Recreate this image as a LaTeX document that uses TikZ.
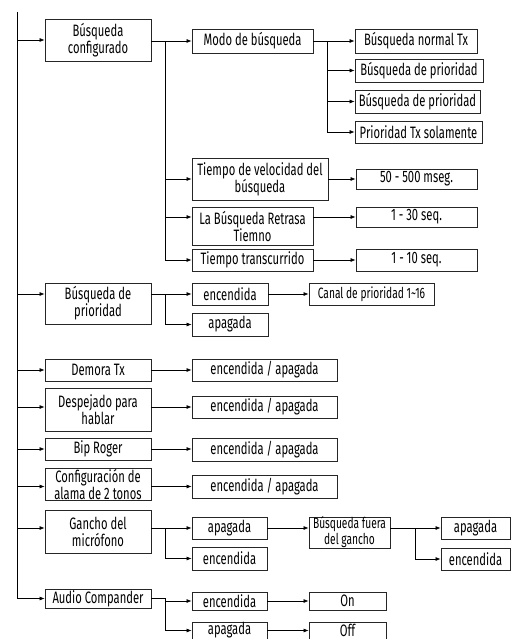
\documentclass[tikz,border=0pt]{standalone}
\usepackage{fontspec}
\setmainfont[FakeStretch=0.68]{Fira Sans}
\usetikzlibrary{arrows.meta}

\tikzset{
  box/.style={draw=black!85, line width=0.8pt, inner sep=0pt, align=center,
    font=\fontsize{16.5}{17}\selectfont},
  small/.style={font=\fontsize{15}{16}\selectfont},
  arr/.style={-{Latex[length=5pt,width=4pt]}, line width=0.7pt},
  ln/.style={line width=0.7pt}
}

\begin{document}
\begin{tikzpicture}[x=1pt,y=-1pt]
\useasboundingbox (0,0) rectangle (511,639);

% Left spine
\coordinate (spine) at (17,12);

% Busqueda configurado
\node[box, minimum width=106, minimum height=42] (bc) at (98,40) {Búsqueda\\configurado};
\node[box, minimum width=121, minimum height=24] (modo) at (252.5,41) {Modo de búsqueda};
\node[box, minimum width=122, minimum height=24] (m1) at (416,41) {Búsqueda normal Tx};
\node[box, minimum width=128, minimum height=23] (m2) at (419,70.5) {Búsqueda de prioridad};
\node[box, minimum width=125, minimum height=23] (m3) at (417.5,101.5) {Búsqueda de prioridad};
\node[box, minimum width=127, minimum height=22] (m4) at (418.5,132) {Prioridad Tx solamente};
\node[box, minimum width=136, minimum height=42] (vel) at (260,179) {Tiempo de velocidad del\\búsqueda};
\node[box, minimum width=121, minimum height=20] (velv) at (416.5,179) {50 - 500 mseg.};
\node[box, minimum width=121, minimum height=38] (ret) at (252.5,226) {La Búsqueda Retrasa\\Tiemno};
\node[box, minimum width=121, minimum height=20] (retv) at (416.5,217) {1 - 30 seq.};
\node[box, minimum width=121, minimum height=22] (tra) at (252.5,260) {Tiempo transcurrido};
\node[box, minimum width=121, minimum height=22] (trav) at (416.5,260) {1 - 10 seq.};

% Busqueda de prioridad
\node[box, minimum width=106, minimum height=41] (bp) at (98,303.5) {Búsqueda de\\prioridad};
\node[box, minimum width=76, minimum height=22] (bpOn) at (230,294) {encendida};
\node[box, minimum width=76, minimum height=23] (bpOff) at (230,324.5) {apagada};
\node[box, small, minimum width=125, minimum height=22] (canal) at (371.5,294) {Canal de prioridad 1\textasciitilde16};

% Simple on / off settings
\node[box, minimum width=106, minimum height=22] (dem) at (98,370) {Demora Tx};
\node[box, minimum width=145, minimum height=22] (demv) at (264.5,370) {encendida / apagada};
\node[box, minimum width=106, minimum height=43] (des) at (98,409.5) {Despejado para\\hablar};
\node[box, minimum width=145, minimum height=22] (desv) at (264.5,407) {encendida / apagada};
\node[box, minimum width=106, minimum height=22] (bip) at (98,449) {Bip Roger};
\node[box, minimum width=145, minimum height=23] (bipv) at (264.5,449.5) {encendida / apagada};
\node[box, minimum width=106, minimum height=32] (cfg) at (98,484) {Configuración de\\alama de 2 tonos};
\node[box, minimum width=145, minimum height=23] (cfgv) at (264.5,486.5) {encendida / apagada};

% Gancho del microfono
\node[box, minimum width=106, minimum height=43] (gan) at (98,531.5) {Gancho del\\micrófono};
\node[box, minimum width=75, minimum height=22] (ganOff) at (229.5,528) {apagada};
\node[box, minimum width=75, minimum height=23] (ganOn) at (229.5,558.5) {encendida};
\node[box, small, minimum width=81, minimum height=31] (fue) at (349.5,532.5) {Búsqueda fuera\\del gancho};
\node[box, minimum width=69, minimum height=22] (fueOff) at (475.5,528) {apagada};
\node[box, minimum width=69, minimum height=22] (fueOn) at (475.5,559) {encendida};

% Audio Compander
\node[box, minimum width=106, minimum height=19] (aud) at (98,598.5) {Audio Compander};
\node[box, minimum width=75, minimum height=18] (audOn) at (229.5,601) {encendida};
\node[box, minimum width=75, minimum height=17] (audOff) at (229.5,630.5) {apagada};
\node[box, minimum width=77, minimum height=18] (on) at (347.5,601) {On};
\node[box, minimum width=77, minimum height=17] (off) at (347.5,630.5) {Off};

% Spine and first level arrows
\draw[arr] (spine) |- (aud.west);
\draw[arr] (spine |- bc) -- (bc.west);
\draw[arr] (spine |- bpOn) -- (bp.west |- bpOn);
\draw[arr] (spine |- dem) -- (dem.west);
\draw[arr] (spine |- desv) -- (des.west |- desv);
\draw[arr] (spine |- bip) -- (bip.west);
\draw[arr] (spine |- cfgv) -- (cfg.west |- cfgv);
\draw[arr] (spine |- ganOff) -- (gan.west |- ganOff);

% Branches of Busqueda configurado
\coordinate (bcJ) at (165,41);
\draw[ln] (bc.east |- bcJ) -- (bcJ) -- (bcJ |- tra);
\draw[arr] (bcJ) -- (modo.west);
\draw[arr] (bcJ |- vel) -- (vel.west);
\draw[arr] (bcJ |- retv) -- (ret.west |- retv);
\draw[arr] (bcJ |- tra) -- (tra.west);

\coordinate (modoJ) at (327,41);
\draw[ln] (modo.east) -- (modoJ) -- (modoJ |- m4);
\draw[arr] (modoJ) -- (m1.west);
\draw[arr] (modoJ |- m2) -- (m2.west);
\draw[arr] (modoJ |- m3) -- (m3.west);
\draw[arr] (modoJ |- m4) -- (m4.west);

\draw[arr] (vel.east) -- (velv.west);
\draw[arr] (ret.east |- retv) -- (retv.west);
\draw[arr] (tra.east) -- (trav.west);

% Branches of Busqueda de prioridad
\coordinate (bpJ) at (165,294);
\draw[ln] (bp.east |- bpJ) -- (bpJ) -- (bpJ |- bpOff);
\draw[arr] (bpJ) -- (bpOn.west);
\draw[arr] (bpJ |- bpOff) -- (bpOff.west);
\draw[arr] (bpOn.east) -- (canal.west);

\draw[arr] (dem.east) -- (demv.west);
\draw[arr] (des.east |- desv) -- (desv.west);
\draw[arr] (bip.east) -- (bip.east -| bipv.west);
\draw[arr] (cfg.east |- cfgv) -- (cfgv.west);

% Branches of Gancho del microfono
\coordinate (ganJ) at (165,528);
\draw[ln] (gan.east |- ganJ) -- (ganJ) -- (ganJ |- ganOn);
\draw[arr] (ganJ) -- (ganOff.west);
\draw[arr] (ganJ |- ganOn) -- (ganOn.west);
\draw[arr] (ganOff.east) -- (fue.west |- ganOff);

\coordinate (fueJ) at (415,528);
\draw[ln] (fue.east |- fueJ) -- (fueJ) -- (fueJ |- fueOn);
\draw[arr] (fueJ) -- (fueOff.west);
\draw[arr] (fueJ |- fueOn) -- (fueOn.west);

% Branches of Audio Compander
\coordinate (audJ) at (165,598.5);
\draw[ln] (aud.east) -- (audJ) -- (audJ |- audOff);
\draw[arr] (audJ |- audOn) -- (audOn.west);
\draw[arr] (audJ |- audOff) -- (audOff.west);
\draw[arr] (audOn.east) -- (on.west);
\draw[arr] (audOff.east) -- (off.west);
\end{tikzpicture}
\end{document}
